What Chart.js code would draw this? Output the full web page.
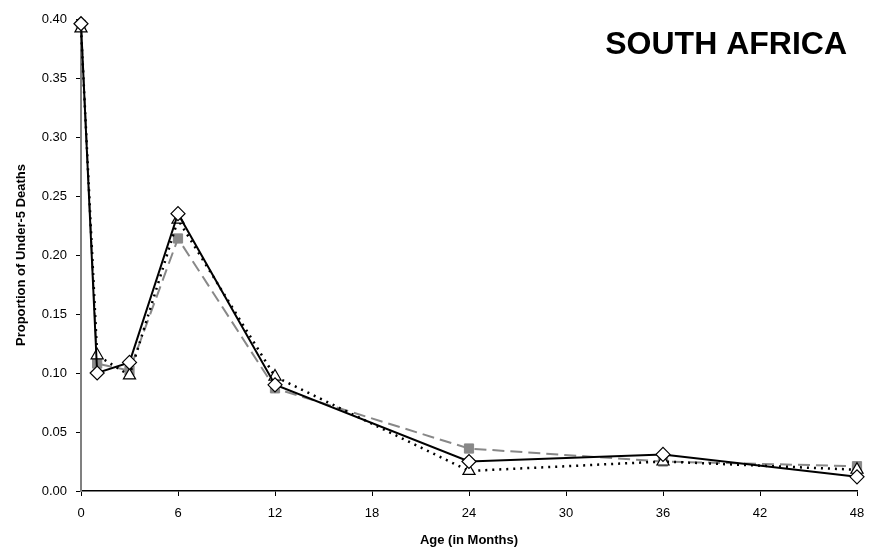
<!DOCTYPE html>
<html>
<head>
<meta charset="utf-8">
<script src="https://cdn.jsdelivr.net/npm/chart.js@4"></script>
<style>
  html, body { margin: 0; padding: 0; background: #fff; }
  #wrap { width: 878px; height: 554px; position: relative; }
</style>
</head>
<body>
<div id="wrap"><canvas id="chart"></canvas></div>
<script>
  // Ages in months
  const ages = [0, 1, 3, 6, 12, 24, 36, 48];
  // Series values
  const diamondSeries = [0.396, 0.100, 0.109, 0.235, 0.090, 0.025, 0.031, 0.012];
  const triangleSeries = [0.392, 0.115, 0.098, 0.230, 0.097, 0.017, 0.025, 0.018];
  const squareSeries = [0.395, 0.108, 0.102, 0.214, 0.087, 0.036, 0.025, 0.021];
  const xTicks = [0, 6, 12, 18, 24, 30, 36, 42, 48];
  const yTicks = [0, 0.05, 0.10, 0.15, 0.20, 0.25, 0.30, 0.35, 0.40];
  const chartTitle = 'SOUTH AFRICA';

  const pts = vals => ages.map((a, i) => ({ x: a, y: vals[i] }));
  const font = 'Liberation Sans, Arial, sans-serif';

  // big country name in the top right corner
  const titlePlugin = {
    id: 'cornerTitle',
    afterDraw(chart) {
      const ctx = chart.ctx;
      ctx.save();
      ctx.font = 'bold 32px ' + font;
      ctx.fillStyle = '#000';
      ctx.textAlign = 'right';
      ctx.textBaseline = 'middle';
      ctx.fillText(chartTitle, 847, 45);
      ctx.restore();
    }
  };

  new Chart(document.getElementById('chart'), {
    type: 'line',
    data: {
      datasets: [
        {
          label: 'A',
          data: pts(diamondSeries),
          borderColor: '#000',
          borderWidth: 2,
          pointStyle: 'rectRot',
          pointRadius: 7,
          pointBackgroundColor: '#fff',
          pointBorderColor: '#000',
          pointBorderWidth: 1.2,
          clip: false
        },
        {
          label: 'B',
          data: pts(triangleSeries),
          borderColor: '#000',
          borderWidth: 2.5,
          borderDash: [2, 5],
          pointStyle: 'triangle',
          pointRadius: 7,
          pointBackgroundColor: '#fff',
          pointBorderColor: '#000',
          pointBorderWidth: 1.2,
          clip: false
        },
        {
          label: 'C',
          data: pts(squareSeries),
          borderColor: '#888',
          borderWidth: 2,
          borderDash: [12, 6],
          pointStyle: 'rect',
          pointRadius: 6.5,
          pointBackgroundColor: '#888',
          pointBorderColor: '#888',
          pointBorderWidth: 1,
          clip: false
        }
      ]
    },
    options: {
      responsive: true,
      maintainAspectRatio: false,
      animation: false,
      layout: { padding: { top: 19, right: 21, left: 0, bottom: 0 } },
      plugins: {
        legend: { display: false },
        tooltip: { enabled: false }
      },
      scales: {
        x: {
          type: 'linear',
          min: 0,
          max: 48,
          afterBuildTicks: s => { s.ticks = xTicks.map(v => ({ value: v })); },
          afterFit: s => { s.height = 63; },
          grid: { display: true, drawOnChartArea: false, tickLength: 5, tickColor: '#000', tickWidth: 1 },
          border: { color: '#000', width: 1.5 },
          ticks: { color: '#000', font: { family: font, size: 13 }, padding: 10, maxRotation: 0 },
          title: { display: true, text: 'Age (in Months)', color: '#000', font: { family: font, size: 13, weight: 'bold' }, padding: { top: 4, bottom: 6 } }
        },
        y: {
          min: 0,
          max: 0.40,
          afterBuildTicks: s => { s.ticks = yTicks.map(v => ({ value: v })); },
          afterFit: s => { s.width = 81; },
          grid: { display: true, drawOnChartArea: false, tickLength: 5, tickColor: '#000', tickWidth: 1 },
          border: { color: '#808080', width: 2 },
          ticks: {
            color: '#000',
            font: { family: font, size: 13 },
            padding: 9,
            callback: v => v.toFixed(2)
          },
          title: { display: true, text: 'Proportion of Under-5 Deaths', color: '#000', font: { family: font, size: 13, weight: 'bold' }, padding: { top: 14, bottom: 4 } }
        }
      }
    },
    plugins: [titlePlugin]
  });
</script>
</body>
</html>
